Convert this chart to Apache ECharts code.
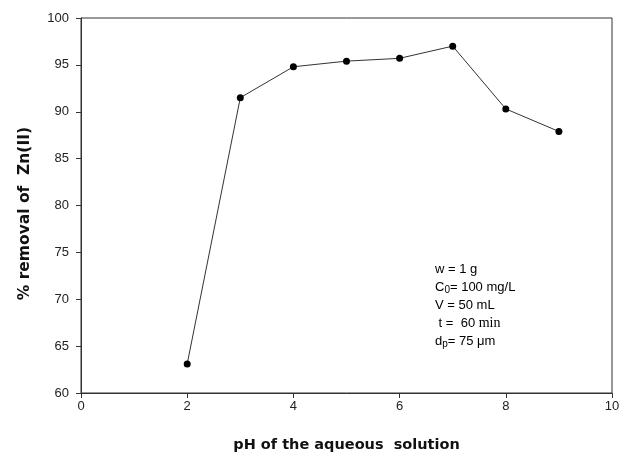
<!DOCTYPE html>
<html>
<head>
<meta charset="utf-8">
<script src="https://cdn.jsdelivr.net/npm/echarts@6/dist/echarts.min.js"></script>
<style>
  html, body { margin: 0; padding: 0; background: #fff; }
  #chart { width: 621px; height: 454px; }
</style>
</head>
<body>
<div id="chart"></div>
<script>
// pH of the aqueous solution vs. % removal of Zn(II)
const phValues = [2, 3, 4, 5, 6, 7, 8, 9];
const removalPercent = [63.1, 91.5, 94.8, 95.4, 95.7, 97.0, 90.3, 87.9];
const xTicks = [0, 2, 4, 6, 8, 10];
const yTicks = [60, 65, 70, 75, 80, 85, 90, 95, 100];

const chart = echarts.init(document.getElementById('chart'));
const sans = 'Liberation Sans, Arial, sans-serif';
const axisFont = { fontFamily: sans, fontSize: 13, color: '#222' };
const titleFont = { fontFamily: 'DejaVu Sans, sans-serif', fontWeight: 'bold', color: '#111' };

chart.setOption({
  animation: false,
  backgroundColor: '#fff',
  grid: {
    left: 81, right: 9, top: 18, bottom: 61,
    outerBoundsMode: 'none', containLabel: false,
    show: true, borderColor: '#333', borderWidth: 1, backgroundColor: 'transparent'
  },
  xAxis: {
    type: 'value',
    min: xTicks[0], max: xTicks[xTicks.length - 1], interval: 2,
    name: 'pH of the aqueous  solution',
    nameLocation: 'middle', nameGap: 45,
    nameTextStyle: Object.assign({ fontSize: 14.5 }, titleFont),
    axisLine: { lineStyle: { color: '#333', width: 1 } },
    axisTick: { show: true, inside: false, length: 5, lineStyle: { color: '#333' } },
    axisLabel: Object.assign({ margin: 7 }, axisFont),
    splitLine: { show: false }
  },
  yAxis: {
    type: 'value',
    min: yTicks[0], max: yTicks[yTicks.length - 1], interval: 5,
    name: '% removal of  Zn(II)   ',
    nameLocation: 'middle', nameGap: 48,
    nameTextStyle: Object.assign({ fontSize: 15.5 }, titleFont),
    axisLine: { show: true, lineStyle: { color: '#333', width: 1 } },
    axisTick: { show: true, inside: false, length: 5, lineStyle: { color: '#333' } },
    axisLabel: Object.assign({ margin: 12 }, axisFont),
    splitLine: { show: false }
  },
  series: [{
    type: 'line',
    data: phValues.map((x, i) => [x, removalPercent[i]]),
    symbol: 'circle',
    symbolSize: 7,
    itemStyle: { color: '#000' },
    lineStyle: { color: '#333', width: 1 }
  }],
  graphic: [{
    type: 'text',
    left: 435,
    top: 263,
    style: {
      text: [
        '{n|w = 1 g}',
        '{n|C}{s|0}{n|= 100 mg/L}',
        '{n|V = 50 mL}',
        '{n| t =  60 }{m|min}',
        '{n|d}{s|p}{n|= 75 μm}'
      ].join('\n'),
      rich: {
        n: { fontFamily: sans, fontSize: 13, color: '#111', lineHeight: 18 },
        s: { fontFamily: sans, fontSize: 10, color: '#111', lineHeight: 18, padding: [6, 0, 0, 0] },
        m: { fontFamily: 'Liberation Serif, serif', fontSize: 14, color: '#111', lineHeight: 18 }
      }
    }
  }]
});
</script>
</body>
</html>
